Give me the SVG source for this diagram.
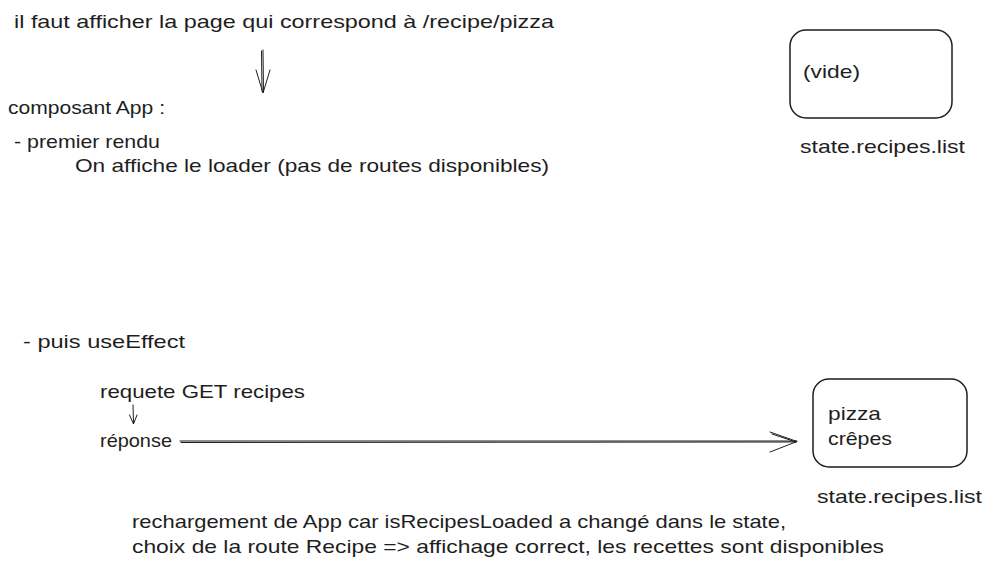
<svg xmlns="http://www.w3.org/2000/svg" width="993" height="567" viewBox="0 0 993 567">
<style>
text{font-family:"Liberation Sans",Arial,sans-serif;font-size:19px;fill:#1e1e1e}
.ln{fill:none;stroke:#1e1e1e;stroke-width:1;stroke-linecap:round;stroke-linejoin:round}
.box{fill:none;stroke:#1e1e1e;stroke-width:1.5}
</style>
<rect width="993" height="567" fill="#ffffff"/>
<g id="title"><text x="14" y="28" textLength="540" lengthAdjust="spacingAndGlyphs">il faut afficher la page qui correspond à /recipe/pizza</text></g>
<g id="app-text">
<text x="8" y="114" textLength="157" lengthAdjust="spacingAndGlyphs">composant App :</text>
<text x="14" y="148" textLength="146" lengthAdjust="spacingAndGlyphs">- premier rendu</text>
<text x="75" y="172" textLength="474" lengthAdjust="spacingAndGlyphs">On affiche le loader (pas de routes disponibles)</text>
</g>
<g id="state-empty">
<rect class="box" x="790" y="30" width="162" height="88" rx="16"/>
<text x="803" y="78" textLength="57" lengthAdjust="spacingAndGlyphs">(vide)</text>
<text x="800" y="153" textLength="165" lengthAdjust="spacingAndGlyphs">state.recipes.list</text>
</g>
<g id="useeffect-text">
<text x="23" y="348" textLength="162" lengthAdjust="spacingAndGlyphs">- puis useEffect</text>
<text x="100" y="398" textLength="205" lengthAdjust="spacingAndGlyphs">requete GET recipes</text>
<text x="100" y="447" textLength="72" lengthAdjust="spacingAndGlyphs">réponse</text>
</g>
<g id="state-full">
<rect class="box" x="813" y="379" width="154" height="88" rx="16"/>
<text x="828" y="420" textLength="53" lengthAdjust="spacingAndGlyphs">pizza</text>
<text x="828" y="445" textLength="64" lengthAdjust="spacingAndGlyphs">crêpes</text>
<text x="817" y="503" textLength="165" lengthAdjust="spacingAndGlyphs">state.recipes.list</text>
</g>
<g id="conclusion">
<text x="132" y="528" textLength="654" lengthAdjust="spacingAndGlyphs">rechargement de App car isRecipesLoaded a changé dans le state,</text>
<text x="132" y="553" textLength="752" lengthAdjust="spacingAndGlyphs">choix de la route Recipe =&gt; affichage correct, les recettes sont disponibles</text>
</g>
<g id="connectors">
<path class="ln" d="M263 50 L263.5 92 M261.5 51 L262 91"/>
<path class="ln" d="M256 70 L263 93 L270 70"/>
<path class="ln" d="M133 405 L133.5 423"/>
<path class="ln" d="M129.5 415 L133.5 424 L137 415"/>
<path class="ln" d="M180 441 L797 441 M181 442.5 L796 442"/>
<path class="ln" d="M770 432 L797 441.5 L770 452 M772 434 L796 442"/>
</g>
</svg>
